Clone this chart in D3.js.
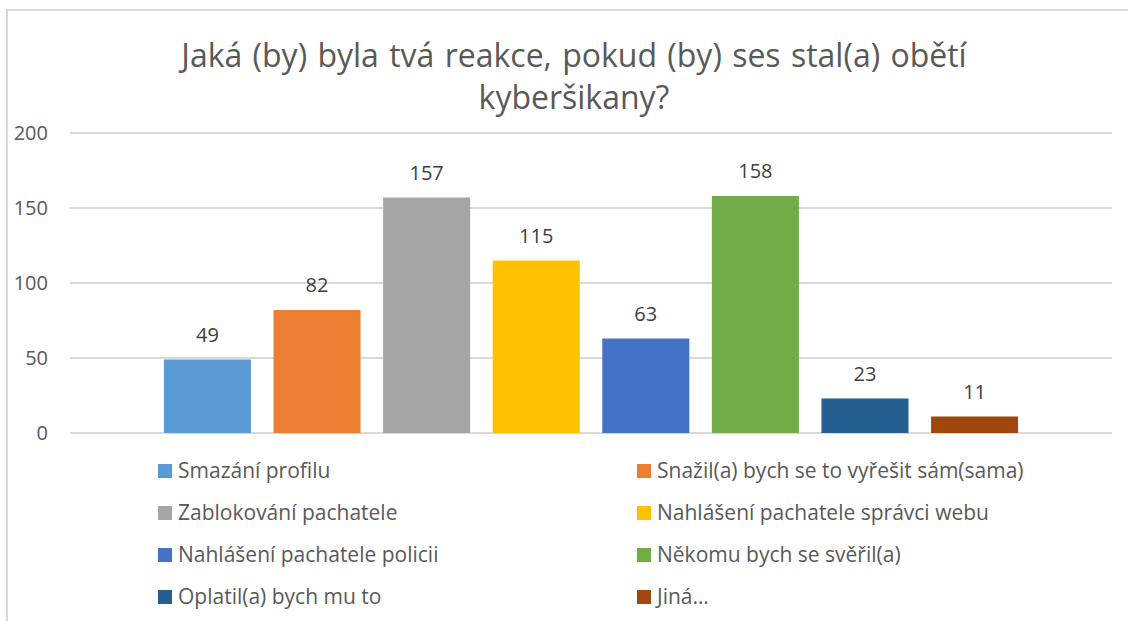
<!DOCTYPE html>
<html>
<head>
<meta charset="utf-8">
<script src="https://cdn.jsdelivr.net/npm/d3@7"></script>
<style>
  body { margin: 0; background: #fff; }
  svg { display: block; font-family: "Open Sans", sans-serif; }
</style>
</head>
<body>
<div id="chart"></div>
<script>
const categories = [
  "Smazání profilu",
  "Snažil(a) bych se to vyřešit sám(sama)",
  "Zablokování pachatele",
  "Nahlášení pachatele správci webu",
  "Nahlášení pachatele policii",
  "Někomu bych se svěřil(a)",
  "Oplatil(a) bych mu to",
  "Jiná…"
];
const values = [49, 82, 157, 115, 63, 158, 23, 11];
const colors = ["#5b9bd5", "#ed7d31", "#a5a5a5", "#ffc000", "#4472c4", "#70ad47", "#255e91", "#9e480e"];
const yTicks = [0, 50, 100, 150, 200];
const titleLines = ["Jaká (by) byla tvá reakce, pokud (by) ses stal(a) obětí", "kyberšikany?"];

const width = 1128;
const height = 621;
const plot = { left: 70, right: 1112, top: 133, bottom: 433 };

const svg = d3.select("#chart")
  .append("svg")
  .attr("width", width)
  .attr("height", height);

// chart area border (cut off on the right and bottom)
svg.append("rect")
  .attr("x", 7).attr("y", 10)
  .attr("width", 1200).attr("height", 700)
  .attr("fill", "none")
  .attr("stroke", "#d9d9d9")
  .attr("stroke-width", 2);

// title
svg.append("text")
  .attr("text-anchor", "middle")
  .attr("fill", "#595959")
  .attr("font-size", 32)
  .attr("word-spacing", 2)
  .selectAll("tspan")
  .data(titleLines)
  .join("tspan")
  .attr("x", 574)
  .attr("y", (d, i) => 67 + i * 42)
  .text(d => d);

const x = d3.scaleBand()
  .domain(categories)
  .range([plot.left, plot.right])
  .paddingInner(0.206)
  .paddingOuter(0.857);

const y = d3.scaleLinear()
  .domain([0, 200])
  .range([plot.bottom, plot.top]);

// gridlines
svg.append("g")
  .selectAll("line")
  .data(yTicks)
  .join("line")
  .attr("x1", plot.left).attr("x2", plot.right)
  .attr("y1", d => y(d)).attr("y2", d => y(d))
  .attr("stroke", "#d9d9d9")
  .attr("stroke-width", 2);

// y axis labels
const yAxis = svg.append("g")
  .attr("transform", `translate(${plot.left - 22},0)`)
  .call(d3.axisLeft(y).tickValues(yTicks).tickSize(0).tickPadding(0));
yAxis.select(".domain").remove();
yAxis.selectAll("text")
  .attr("font-family", "Open Sans, sans-serif")
  .attr("font-size", 20)
  .attr("fill", "#595959");

// bars
svg.append("g")
  .selectAll("rect")
  .data(values)
  .join("rect")
  .attr("x", (d, i) => x(categories[i]))
  .attr("y", d => y(d))
  .attr("width", x.bandwidth())
  .attr("height", d => y(0) - y(d))
  .attr("fill", (d, i) => colors[i]);

// data labels
svg.append("g")
  .selectAll("text")
  .data(values)
  .join("text")
  .attr("x", (d, i) => x(categories[i]) + x.bandwidth() / 2)
  .attr("y", d => y(d) - 18)
  .attr("text-anchor", "middle")
  .attr("font-size", 20)
  .attr("fill", "#404040")
  .text(d => d);

// legend, two columns
const legend = svg.append("g")
  .selectAll("g")
  .data(categories)
  .join("g")
  .attr("transform", (d, i) => `translate(${i % 2 === 0 ? 158 : 637},${471 + Math.floor(i / 2) * 42})`);

legend.append("rect")
  .attr("x", 0).attr("y", -7)
  .attr("width", 14).attr("height", 14)
  .attr("fill", (d, i) => colors[i]);

legend.append("text")
  .attr("x", 20)
  .attr("y", 7)
  .attr("font-size", 21)
  .attr("fill", "#595959")
  .text(d => d);
</script>
</body>
</html>
